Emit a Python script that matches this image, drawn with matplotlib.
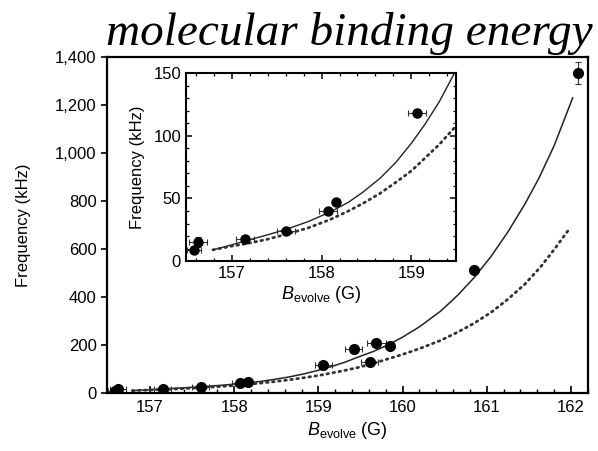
import matplotlib
matplotlib.use("Agg")
import matplotlib.pyplot as plt
from matplotlib.ticker import MultipleLocator
import numpy as np

plt.rcParams['font.family'] = ['Liberation Sans', 'DejaVu Sans']
plt.rcParams['mathtext.fontset'] = 'custom'
plt.rcParams['mathtext.rm'] = 'Liberation Sans'
plt.rcParams['mathtext.it'] = 'Liberation Sans:italic'

# measured points: B (G), frequency (kHz), errors
b_meas = [156.58, 156.62, 157.15, 157.60, 158.07, 158.16, 159.06, 159.42, 159.61, 159.69, 159.85, 160.85, 162.08]
f_meas = [9, 15, 17.5, 24, 40, 47, 118, 183, 129, 208, 196, 510, 1333]
b_err = [0.08, 0.10, 0.10, 0.10, 0.10, 0.02, 0.10, 0.10, 0.10, 0.11, 0.02, 0.03, 0.0]
f_err = [2, 4, 2, 2, 2, 2, 3, 3, 3, 3, 3, 5, 45]

# theory curves
b_solid = [156.79, 157.0, 157.17, 157.4, 157.61, 157.85, 158.09, 158.3, 158.46, 158.65, 158.83,
           159.0, 159.15, 159.31, 159.48, 159.65, 159.83, 160.0, 160.2, 160.45, 160.65, 160.85,
           161.05, 161.25, 161.45, 161.62, 161.8, 162.02]
f_solid = [9, 13, 16.5, 21, 25.5, 31.5, 39, 47, 55, 66, 79,
           94, 109, 127, 150, 172, 200, 232, 275, 340, 405, 480,
           568, 670, 785, 895, 1030, 1229]
b_dot = [156.79, 157.0, 157.17, 157.4, 157.61, 157.85, 158.09, 158.3, 158.46, 158.65, 158.83,
         159.0, 159.09, 159.31, 159.5, 159.75, 160.0, 160.2, 160.45, 160.65, 160.85,
         161.05, 161.25, 161.45, 161.64, 161.8, 161.98]
f_dot = [9, 12, 14, 17.5, 21.5, 26.5, 33, 40, 46, 54, 63,
         72, 78, 93, 108, 133, 160, 184, 218, 252, 290,
         335, 390, 452, 525, 597, 683]

main_xticks = [157, 158, 159, 160, 161, 162]
main_yticks = [0, 200, 400, 600, 800, 1000, 1200, 1400]
main_ylabels = ['0', '200', '400', '600', '800', '1,000', '1,200', '1,400']
inset_xticks = [157, 158, 159]
inset_yticks = [0, 50, 100, 150]

fig = plt.figure(figsize=(5.98, 4.51), dpi=100)

# main plot
ax = fig.add_axes([0.179, 0.129, 0.804, 0.745])
ax.plot(b_solid, f_solid, color='#222222', lw=1.1)
ax.plot(b_dot, f_dot, color='#333333', lw=2.0, linestyle=(0, (0.6, 1.6)), dash_capstyle='round')
ax.errorbar(b_meas, f_meas, xerr=b_err, yerr=f_err, fmt='o', color='black', ms=7,
            ecolor='#333333', elinewidth=0.8, capsize=2.5, capthick=0.8)
ax.set_xlim(156.49, 162.2)
ax.set_ylim(0, 1400)
ax.set_xticks(main_xticks)
ax.xaxis.set_minor_locator(MultipleLocator(0.2))
ax.set_yticks(main_yticks)
ax.set_yticklabels(main_ylabels)
ax.tick_params(axis='x', which='major', direction='in', length=5, width=1.2, labelsize=12, pad=5)
ax.tick_params(axis='x', which='minor', direction='in', length=3, width=1.0)
ax.tick_params(axis='y', which='major', direction='out', length=4, width=1.2, labelsize=12)
for s in ax.spines.values():
    s.set_linewidth(1.6)
ax.set_ylabel('Frequency (kHz)', fontsize=12, labelpad=17)
ax.set_xlabel(r'$\it{B}_{\rm evolve}$ (G)', fontsize=13, labelpad=4)

# inset
ins = fig.add_axes([0.311, 0.421, 0.452, 0.417])
ins.plot(b_solid, f_solid, color='#222222', lw=1.0)
ins.plot(b_dot, f_dot, color='#333333', lw=2.0, linestyle=(0, (0.6, 1.6)), dash_capstyle='round')
ins.errorbar(b_meas, f_meas, xerr=b_err, yerr=f_err, fmt='o', color='black', ms=6.5,
             ecolor='#333333', elinewidth=0.8, capsize=2.5, capthick=0.8)
ins.set_xlim(156.49, 159.5)
ins.set_ylim(0, 150)
ins.set_xticks(inset_xticks)
ins.set_yticks(inset_yticks)
ins.xaxis.set_minor_locator(MultipleLocator(0.2))
ins.yaxis.set_minor_locator(MultipleLocator(10))
ins.tick_params(which='both', direction='in', top=True, right=True, labelsize=12)
ins.tick_params(which='major', length=4, width=1.1)
ins.tick_params(which='minor', length=2.5, width=0.9)
for s in ins.spines.values():
    s.set_linewidth(1.5)
ins.set_ylabel('Frequency (kHz)', fontsize=12, labelpad=6)
ins.set_xlabel(r'$\it{B}_{\rm evolve}$ (G)', fontsize=13, labelpad=2)

fig.text(0.584, 0.900, 'molecular binding energy', family=['Liberation Serif', 'DejaVu Serif'],
         style='italic', fontsize=34, ha='center', va='baseline')

fig.savefig('out.png', dpi=100)
